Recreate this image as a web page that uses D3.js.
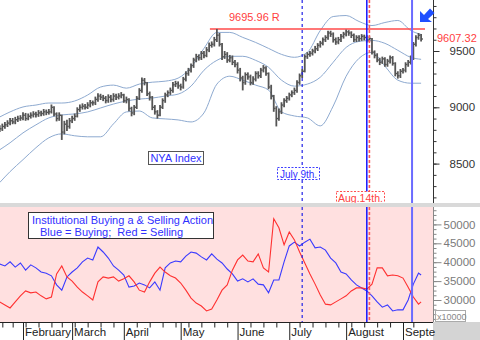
<!DOCTYPE html>
<html><head><meta charset="utf-8">
<script src="https://cdn.jsdelivr.net/npm/d3@7"></script>
<style>body{margin:0;background:#fff}svg{display:block}text{font-family:"Liberation Sans",Arial,sans-serif}</style>
</head><body><svg id="c" width="480" height="340"></svg>
<script>
// ---- data: NYA daily bars (bar index 1..164) ----
const closes=[8810,8830,8845,8860,8880,8870,8890,8900,8905,8930,
8900,8920,8930,8940,8935,8950,8945,8960,8955,8960,
9000,8940,8900,8930,8780,8850,8830,8880,8900,8920,
8980,9000,9010,9000,9020,9040,9040,9070,9100,9090,
9080,9060,9090,9070,9100,9090,9100,9110,9060,9070,
8990,8950,9000,9080,9150,9240,9220,9120,9090,9000,
8960,8930,9000,9060,9110,9130,9150,9200,9210,9190,
9180,9250,9300,9330,9370,9420,9450,9440,9480,9460,
9510,9550,9560,9600,9640,9560,9450,9470,9420,9440,
9400,9380,9330,9260,9220,9290,9270,9220,9250,9300,
9280,9330,9350,9300,9180,9100,8990,8900,8960,9020,
9060,9080,9110,9130,9150,9220,9280,9320,9450,9470,
9480,9500,9520,9550,9570,9600,9620,9660,9650,9600,
9580,9600,9630,9650,9670,9660,9640,9600,9620,9610,
9630,9620,9600,9610,9490,9460,9420,9400,9430,9380,
9410,9440,9390,9300,9280,9320,9330,9380,9400,9440,
9560,9620,9640,9607];
const highs=[8840,8855,8870,8885,8905,8905,8915,8925,8930,8955,
8950,8945,8955,8965,8960,8975,8970,8985,8980,8985,
9025,9010,8955,8955,8935,8880,8890,8905,8925,8945,
9000,9025,9035,9030,9045,9065,9060,9095,9125,9120,
9110,9100,9115,9110,9125,9120,9125,9135,9120,9095,
9080,9005,9020,9100,9170,9265,9260,9225,9140,9100,
9020,8975,9020,9080,9130,9150,9175,9225,9235,9230,
9210,9270,9320,9350,9390,9440,9475,9470,9500,9500,
9535,9575,9585,9625,9696,9660,9570,9500,9490,9465,
9460,9420,9400,9350,9280,9310,9310,9290,9275,9320,
9320,9350,9375,9365,9310,9200,9110,9010,8990,9045,
9080,9100,9130,9150,9175,9240,9300,9340,9470,9490,
9500,9520,9545,9570,9590,9620,9640,9680,9680,9665,
9620,9625,9650,9670,9690,9685,9675,9655,9640,9640,
9650,9645,9640,9630,9615,9505,9480,9440,9450,9445,
9430,9460,9455,9400,9320,9340,9350,9400,9420,9460,
9580,9640,9660,9650];
const lows=[8780,8790,8810,8825,8840,8850,8850,8870,8880,8885,
8880,8885,8900,8910,8910,8915,8920,8925,8930,8935,
8945,8920,8875,8880,8710,8760,8790,8810,8860,8880,
8910,8960,8980,8980,8985,9000,9015,9020,9050,9065,
9055,9035,9040,9045,9050,9065,9070,9080,9040,9035,
8965,8920,8930,8985,9065,9130,9195,9100,9060,8975,
8935,8900,8920,8985,9040,9090,9110,9130,9180,9165,
9150,9165,9230,9280,9310,9350,9400,9415,9420,9435,
9445,9490,9530,9540,9580,9540,9420,9430,9395,9400,
9375,9355,9300,9230,9150,9200,9245,9195,9200,9230,
9255,9260,9310,9280,9160,9070,8960,8830,8880,8940,
9000,9040,9060,9090,9110,9130,9200,9260,9310,9430,
9450,9460,9480,9500,9530,9550,9580,9600,9625,9575,
9555,9560,9580,9610,9630,9635,9615,9580,9580,9585,
9590,9595,9575,9580,9470,9435,9400,9375,9385,9360,
9360,9390,9370,9275,9255,9260,9300,9310,9360,9380,
9420,9540,9600,9585];

// Bollinger bands (sampled at bar indices)
const bandIdx=[1,5,10,15,20,25,30,35,40,45,50,55,60,65,70,75,80,85,90,95,100,105,110,115,120,125,130,135,140,145,150,155,160,164];
const upperBand=[8914,8959,9003,9020,9038,9038,9056,9109,9180,9197,9170,9206,9223,9232,9259,9356,9523,9665,9665,9621,9576,9523,9470,9444,9488,9682,9806,9815,9762,9726,9753,9771,9682,9647];
const midBand=[8623,8685,8773,8844,8906,8932,8941,8959,8994,9029,9056,9073,9082,9100,9117,9188,9329,9417,9453,9453,9417,9355,9241,9188,9206,9267,9400,9532,9585,9594,9568,9506,9444,9426];
const lowerBand=[8332,8429,8535,8641,8729,8764,8747,8738,8738,8853,8959,8967,8906,8897,8888,8870,8950,9206,9276,9241,9197,9153,8959,8923,8906,8835,9011,9276,9435,9488,9365,9241,9214,9214];

// Institutional buying / selling (sampled at bar indices)
const flowIdx=[1,3,5,7,9,11,13,15,17,19,21,23,25,27,29,31,33,35,37,39,41,43,45,47,49,51,53,55,57,59,61,63,65,67,69,71,73,75,77,79,81,83,85,87,89,91,93,95,97,99,101,103,105,107,109,111,113,115,117,119,121,123,125,127,129,131,133,135,137,139,141,143,145,147,149,151,153,155,157,159,161,163,164];
const buying=[39500,39000,40100,38700,39800,37900,39300,38500,37400,37100,
36400,34000,32600,36100,37400,38500,40100,41100,40600,44000,
42700,41100,39000,37900,36600,33400,33700,34500,34000,33200,
34800,32600,38500,39800,40300,40100,41600,42700,42400,41400,
40600,42200,40800,39800,38200,36900,35000,35600,34800,35600,
34200,34000,31900,35300,35300,40100,44300,45300,44300,45300,
46100,43800,44000,43200,41100,39800,37400,36900,35300,34000,
33200,32400,31100,29500,28100,28700,27100,27400,27400,30000,
34200,37100,36600];
const selling=[29500,28700,27900,29500,31100,32400,31900,32100,31100,30300,
30800,36900,39000,36100,35000,33400,32100,31100,30000,34800,
36100,35800,36100,35000,35600,36400,34800,32600,32100,34800,
37100,38700,37400,36400,35800,34500,32600,30500,29200,28400,
27100,27600,30000,32600,34000,37900,40600,41900,40300,40100,
42200,38500,37400,51500,49100,44600,48000,45900,42700,39800,
36900,34200,31300,28900,28700,29500,30300,31100,32400,33200,
33200,32900,34200,38500,38500,36400,36600,36400,35800,33400,
30800,28900,29500];

// time axis
const monthIdx=[10,29,49,71,93,113,135,157];
const monthLabels=["February","March","April","May","June","July","August","Septe"];
const weekIdx=[2,6,11,16,21,25,30,35,40,45,54,59,64,69,74,79,84,89,98,103,108,117,122,127,132,137,142,147,152,161];
const priceTicks=[8500,9000,9500];
const flowTicks=[30000,35000,40000,45000,50000];
const resistance=9695.96, lastValue=9607.32;
const resistanceFrom=82.3; // bar index where the resistance line starts
const markerIdx=[118,143,144,160.5]; // July 9th, Aug 14th (blue/red), early Sept

// ---- drawing ----
const svg=d3.select("#c");
const W=433, topH=203, botTop=207, botBot=322;
const x=d3.scaleLinear().domain([10,157]).range([23,403]);
const yP=d3.scaleLinear().domain([9000,9500]).range([107.3,51]);
const yF=d3.scaleLinear().domain([30000,50000]).range([300,224.4]);

const defs=svg.append("defs");
defs.append("clipPath").attr("id","cTop").append("rect").attr("x",0).attr("y",0).attr("width",W).attr("height",topH);
defs.append("clipPath").attr("id","cBot").append("rect").attr("x",0).attr("y",botTop).attr("width",W).attr("height",botBot-botTop);

svg.append("rect").attr("width",480).attr("height",340).attr("fill","#fff");
svg.append("rect").attr("x",0).attr("y",botTop).attr("width",W).attr("height",botBot-botTop).attr("fill","#ffe0e0");
svg.append("rect").attr("x",0).attr("y",topH).attr("width",480).attr("height",botTop-topH).attr("fill","#d9d9d9");
svg.append("rect").attr("x",W).attr("y",botBot).attr("width",480-W).attr("height",340-botBot).attr("fill","#d4d4d4");

const gT=svg.append("g").attr("clip-path","url(#cTop)");
const gB=svg.append("g").attr("clip-path","url(#cBot)");

// bands
const bandLine=arr=>d3.line().x((d,k)=>x(bandIdx[k])).y(d=>yP(d)).curve(d3.curveMonotoneX)(arr);
[upperBand,midBand,lowerBand].forEach(a=>{
  gT.append("path").attr("d",bandLine(a)).attr("fill","none").attr("stroke","#8eaad0").attr("stroke-width",1);
});

// resistance line
gT.append("line").attr("x1",x(resistanceFrom)).attr("x2",425).attr("y1",yP(resistance)).attr("y2",yP(resistance))
  .attr("stroke","#ff4a4a").attr("stroke-width",1.5);

// OHLC bars
const bars=gT.append("g").attr("stroke","#555");
closes.forEach((c,k)=>{
  const i=k+1, xi=x(i);
  bars.append("line").attr("x1",xi).attr("x2",xi).attr("y1",yP(highs[k])).attr("y2",yP(lows[k])).attr("stroke-width",1.8);
  bars.append("line").attr("x1",xi).attr("x2",xi+1.8).attr("y1",yP(c)).attr("y2",yP(c)).attr("stroke-width",1.4);
});

// flow lines
const flowLine=arr=>d3.line().x((d,k)=>x(flowIdx[k])).y(d=>yF(d))(arr);
gB.append("path").attr("d",flowLine(buying)).attr("fill","none").attr("stroke","#3a3aff").attr("stroke-width",1.1);
gB.append("path").attr("d",flowLine(selling)).attr("fill","none").attr("stroke","#ff3030").attr("stroke-width",1.1);

// vertical markers
const mStyle=[{c:"#2323e6",d:"3,3",w:1.2},{c:"#1414ff",d:null,w:1.5},{c:"#ff5a5a",d:"3,2",w:1.6},{c:"#6b6bff",d:null,w:2}];
markerIdx.forEach((m,k)=>{
  const s=mStyle[k];
  [[0,topH],[botTop,botBot]].forEach(([a,b])=>{
    svg.append("line").attr("x1",x(m)).attr("x2",x(m)).attr("y1",a).attr("y2",b)
      .attr("stroke",s.c).attr("stroke-width",s.w).attr("stroke-dasharray",s.d);
  });
});

// right axes
svg.append("line").attr("x1",W+0.5).attr("x2",W+0.5).attr("y1",0).attr("y2",topH).attr("stroke","#333");
svg.append("line").attr("x1",W+0.5).attr("x2",W+0.5).attr("y1",botTop).attr("y2",botBot).attr("stroke","#888");
const aP=svg.append("g").attr("transform",`translate(${W+0.5},0)`)
  .call(d3.axisRight(yP).tickValues(priceTicks).tickSize(6).tickPadding(10).tickFormat(d3.format("d")));
const aPm=svg.append("g").attr("transform",`translate(${W+0.5},0)`)
  .call(d3.axisRight(yP).tickValues(d3.range(8200,9950,100)).tickSize(3).tickFormat(""));
const aF=svg.append("g").attr("transform",`translate(${W+0.5},0)`)
  .call(d3.axisRight(yF).tickValues(flowTicks).tickSize(8).tickPadding(2).tickFormat(d3.format("d")));
const aFm=svg.append("g").attr("transform",`translate(${W+0.5},0)`)
  .call(d3.axisRight(yF).tickValues(d3.range(25000,54001,1250)).tickSize(3).tickFormat(""));
[aP,aPm].forEach(g=>{g.select(".domain").remove();g.selectAll("line").attr("stroke","#333");});
[aF,aFm].forEach(g=>{g.select(".domain").remove();g.selectAll("line").attr("stroke","#888");});
aP.selectAll("text").attr("font-size",11.5).attr("fill","#333").attr("font-family","Liberation Sans, Arial");
aF.selectAll("text").attr("font-size",11.5).attr("fill","#7a7a7a").attr("font-family","Liberation Sans, Arial");

// x10000 unit box
svg.append("rect").attr("x",435.5).attr("y",310.5).attr("width",30).attr("height",11).attr("fill","none").attr("stroke","#aaa");
svg.append("text").attr("x",437).attr("y",319.5).attr("font-size",9).attr("fill","#888").text("x10000");

// bottom time axis
svg.append("line").attr("x1",0).attr("x2",W).attr("y1",botBot+0.5).attr("y2",botBot+0.5).attr("stroke","#222");
const aX=svg.append("g").attr("transform",`translate(0,${botBot+0.5})`)
  .call(d3.axisBottom(x).tickValues(monthIdx).tickSize(18).tickFormat(""));
const aXm=svg.append("g").attr("transform",`translate(0,${botBot+0.5})`)
  .call(d3.axisBottom(x).tickValues(weekIdx).tickSize(5).tickFormat(""));
[aX,aXm].forEach(g=>{g.select(".domain").remove();g.selectAll("line").attr("stroke","#222");});
monthIdx.forEach((m,k)=>{
  svg.append("text").attr("x",x(m)+2).attr("y",336).attr("font-size",11.5).attr("fill","#222").text(monthLabels[k]);
});

// annotations
svg.append("text").attr("x",229).attr("y",21).attr("font-size",11).attr("fill","#ff4040").text("9695.96 R");
svg.append("text").attr("x",437).attr("y",42).attr("font-size",11).attr("fill","#ff4040").text(lastValue.toFixed(2));
svg.append("path").attr("d","M420,22 L420,11 L424,15 L430,8.5 L434.5,13 L428,19 L432,22 Z").attr("fill","#1f4fff");

svg.append("rect").attr("x",148.5).attr("y",151.5).attr("width",55).attr("height",13).attr("fill","#fff").attr("stroke","#555");
svg.append("text").attr("x",176).attr("y",162).attr("text-anchor","middle").attr("font-size",11).attr("fill","#3030ff").text("NYA Index");

svg.append("rect").attr("x",277.5).attr("y",167.5).attr("width",42).attr("height",12).attr("fill","#fff").attr("stroke","#4040ff").attr("stroke-dasharray","2,1.5");
svg.append("text").attr("x",298.5).attr("y",177.5).attr("text-anchor","middle").attr("font-size",10).attr("fill","#3030ff").text("July 9th.");

const gA=svg.append("g").attr("clip-path","url(#cTop)");
gA.append("rect").attr("x",336.5).attr("y",191.5).attr("width",48).attr("height",13).attr("fill","#fff").attr("stroke","#ff5050").attr("stroke-dasharray","2,1.5");
gA.append("text").attr("x",360.5).attr("y",202).attr("text-anchor","middle").attr("font-size",10.5).attr("fill","#ff4040").text("Aug.14th.");

svg.append("rect").attr("x",28.5).attr("y",212.5).attr("width",185).attr("height",26).attr("fill","#fff").attr("stroke","#333");
svg.append("text").attr("x",32).attr("y",224).attr("font-size",11).attr("fill","#3030ff").text("Institutional Buying a & Selling Action");
svg.append("text").attr("x",40).attr("y",236).attr("font-size",11).attr("fill","#3030ff").attr("xml:space","preserve").text("Blue = Buying;  Red = Selling");
</script></body></html>
